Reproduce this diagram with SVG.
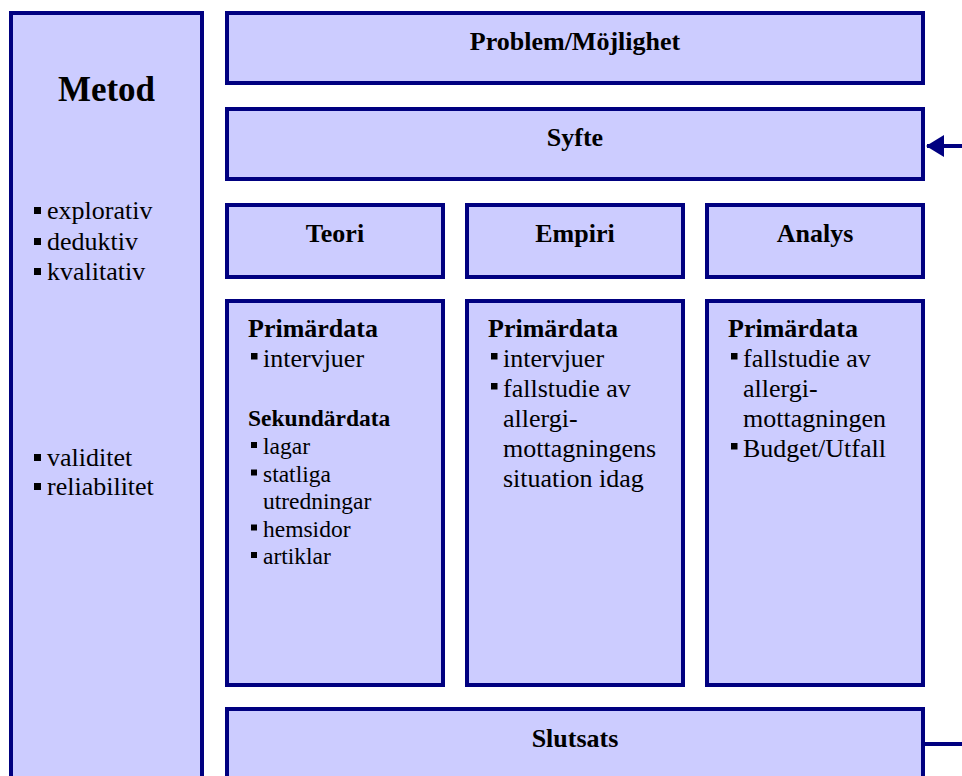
<svg xmlns="http://www.w3.org/2000/svg" width="962" height="776" viewBox="0 0 962 776">
<style>
.box{fill:#CCCCFF;stroke:#000080;stroke-width:4}
.t{font-family:"Liberation Serif","Times New Roman",serif;fill:#000}
.h{font-weight:bold;font-size:26px;text-anchor:middle}
.b{font-weight:bold;font-size:26px}
.r{font-size:26px}
.bs{font-weight:bold;font-size:23.5px}
.rs{font-size:23.5px}
.sq{fill:#000}
.conn{stroke:#000080;stroke-width:4;fill:none}
</style>
<defs>
<marker id="ah" markerUnits="userSpaceOnUse" markerWidth="18" markerHeight="22" refX="17" refY="11" orient="auto">
<path d="M0,0 L18,11 L0,22 z" fill="#000080"/>
</marker>
</defs>
<rect width="962" height="776" fill="#fff"/>
<g id="metod">
<rect class="box" x="11" y="13" width="191" height="800"/>
<text class="t h" x="106.5" y="101" style="font-size:35px">Metod</text>
<rect class="sq" x="34" y="207" width="7" height="7"/>
<text class="t r" x="47" y="219">explorativ</text>
<rect class="sq" x="34" y="238" width="7" height="7"/>
<text class="t r" x="47" y="250">deduktiv</text>
<rect class="sq" x="34" y="268" width="7" height="7"/>
<text class="t r" x="47" y="280">kvalitativ</text>
<rect class="sq" x="34" y="454" width="7" height="7"/>
<text class="t r" x="47" y="466">validitet</text>
<rect class="sq" x="34" y="483" width="7" height="7"/>
<text class="t r" x="47" y="495">reliabilitet</text>
</g>
<g id="problem">
<rect class="box" x="227" y="13" width="696" height="70"/>
<text class="t h" x="575" y="50">Problem/Möjlighet</text>
</g>
<g id="syfte">
<rect class="box" x="227" y="109" width="696" height="70"/>
<text class="t h" x="575" y="146">Syfte</text>
</g>
<g id="teori">
<rect class="box" x="227" y="205" width="216" height="72"/>
<text class="t h" x="335" y="242">Teori</text>
</g>
<g id="empiri">
<rect class="box" x="467" y="205" width="216" height="72"/>
<text class="t h" x="575" y="242">Empiri</text>
</g>
<g id="analys">
<rect class="box" x="707" y="205" width="216" height="72"/>
<text class="t h" x="815" y="242">Analys</text>
</g>
<g id="teori-data">
<rect class="box" x="227" y="301" width="216" height="384"/>
<text class="t b" x="248" y="337">Primärdata</text>
<rect class="sq" x="251" y="353" width="6.5" height="6.5"/>
<text class="t r" x="263" y="367">intervjuer</text>
<text class="t bs" x="248" y="426">Sekundärdata</text>
<rect class="sq" x="251" y="442" width="6" height="6"/>
<text class="t rs" x="263" y="454">lagar</text>
<rect class="sq" x="251" y="469.5" width="6" height="6"/>
<text class="t rs" x="263" y="481.5">statliga</text>
<text class="t rs" x="263" y="509">utredningar</text>
<rect class="sq" x="251" y="524.5" width="6" height="6"/>
<text class="t rs" x="263" y="536.5">hemsidor</text>
<rect class="sq" x="251" y="552" width="6" height="6"/>
<text class="t rs" x="263" y="564">artiklar</text>
</g>
<g id="empiri-data">
<rect class="box" x="467" y="301" width="216" height="384"/>
<text class="t b" x="488" y="337">Primärdata</text>
<rect class="sq" x="491" y="353" width="6.5" height="6.5"/>
<text class="t r" x="503" y="367">intervjuer</text>
<rect class="sq" x="491" y="383" width="6.5" height="6.5"/>
<text class="t r" x="503" y="397">fallstudie av</text>
<text class="t r" x="503" y="427">allergi-</text>
<text class="t r" x="503" y="457">mottagningens</text>
<text class="t r" x="503" y="487">situation idag</text>
</g>
<g id="analys-data">
<rect class="box" x="707" y="301" width="216" height="384"/>
<text class="t b" x="728" y="337">Primärdata</text>
<rect class="sq" x="731" y="353" width="6.5" height="6.5"/>
<text class="t r" x="743" y="367">fallstudie av</text>
<text class="t r" x="743" y="397">allergi-</text>
<text class="t r" x="743" y="427">mottagningen</text>
<rect class="sq" x="731" y="443" width="6.5" height="6.5"/>
<text class="t r" x="743" y="457">Budget/Utfall</text>
</g>
<g id="slutsats">
<rect class="box" x="227" y="709" width="696" height="100"/>
<text class="t h" x="575" y="747">Slutsats</text>
</g>
<g id="connectors">
<path class="conn" d="M962,146 L927,146" marker-end="url(#ah)"/>
<path class="conn" d="M925,744 L962,744"/>
</g>
</svg>
